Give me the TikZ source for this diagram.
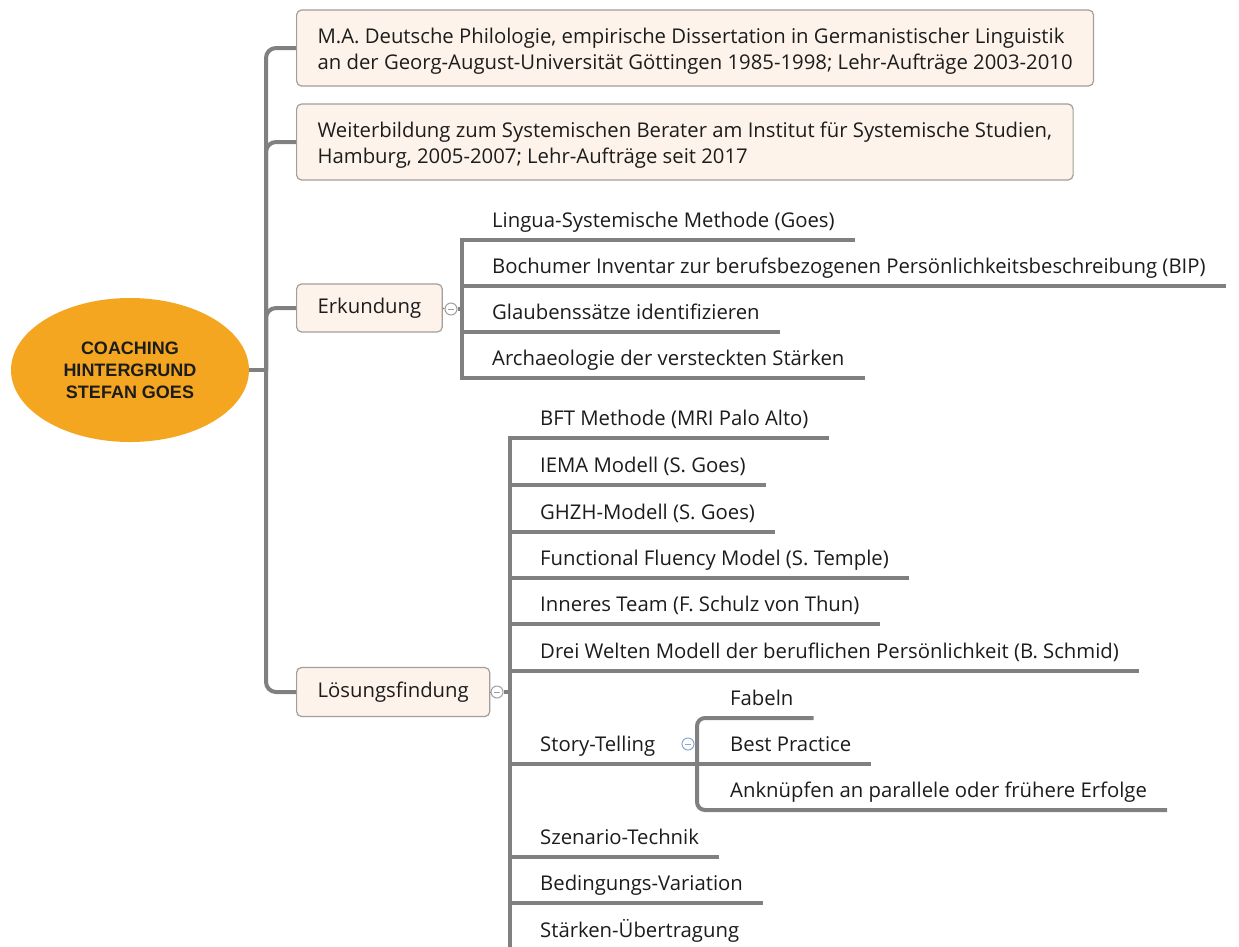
\documentclass[tikz,border=0pt]{standalone}
\usepackage{fontspec}
\setmainfont{Open Sans}
\newfontfamily\rootfont{Liberation Sans}
\usetikzlibrary{shapes.geometric}
\definecolor{rootorange}{HTML}{F4A620}
\definecolor{boxfill}{HTML}{FDF3EA}
\definecolor{boxline}{HTML}{A39E99}
\definecolor{branchgray}{HTML}{808080}
\definecolor{inkblack}{HTML}{1C1C1C}
\definecolor{foldblue}{HTML}{8DA5D8}
\tikzset{
  rootnode/.style={ellipse, fill=rootorange, minimum width=238pt, minimum height=144pt,
    align=center, text=inkblack, font=\rootfont\bfseries\fontsize{18}{22}\selectfont},
  topic/.style={draw=boxline, fill=boxfill, line width=1.2pt, rounded corners=5pt, anchor=west,
    inner xsep=21pt, minimum height=48pt, align=left, text=inkblack,
    font=\fontsize{20.3}{26}\selectfont},
  leaf/.style={anchor=south west, inner xsep=0pt, inner ysep=7pt, text height=15pt,
    text depth=5pt, text=inkblack, font=\fontsize{20.3}{24}\selectfont},
  branch/.style={draw=branchgray, line width=4pt},
  fold/.style={circle, draw=#1, fill=white, line width=1pt, minimum size=12pt, inner sep=0pt,
    path picture={\draw[#1, line width=1pt] ([xshift=-3pt]path picture bounding box.center)
      -- ([xshift=3pt]path picture bounding box.center);}},
  fold/.default=boxline
}
\newcommand{\topstrut}{\rule{0pt}{21pt}}
\begin{document}
\begin{tikzpicture}[x=1pt, y=-1pt]
    \path[use as bounding box, fill=white] (0,0) rectangle (1239,946);
    % root and main topics
    \node[rootnode] (root) at (130,370) {COACHING\\HINTERGRUND\\STEFAN GOES};
    \node[topic, minimum height=76pt] (studium) at (296,48)
      {\topstrut M.A. Deutsche Philologie, empirische Dissertation in Germanistischer Linguistik\\
       an der Georg-August-Universität Göttingen 1985-1998; Lehr-Aufträge 2003-2010};
    \node[topic, minimum height=76pt] (weiterbildung) at (296,142)
      {\topstrut Weiterbildung zum Systemischen Berater am Institut für Systemische Studien,\\
       Hamburg, 2005-2007; Lehr-Aufträge seit 2017};
    \node[topic] (erkundung) at (296,308) {Erkundung};
    \node[topic, minimum height=49pt] (loesung) at (296,692) {Lösungsfindung};
    \coordinate (trunk) at (266,370);
    \draw[branch] (root.east) -- (trunk);
    \draw[branch, rounded corners=10pt] (studium.west) -| (trunk);
    \draw[branch, rounded corners=10pt] (weiterbildung.west) -| (trunk);
    \draw[branch, rounded corners=10pt] (erkundung.west) -| (trunk);
    \draw[branch, rounded corners=10pt] (loesung.west) -| (trunk);

    % Erkundung
    \node[fold] (erkfold) at (451,309) {};
    \coordinate (erkbar) at (462,309);
    \draw[branchgray, line width=1pt] (erkundung.east) -- (erkfold.west);
    \draw[branch] (erkfold.east) -- (erkbar);
    \node[leaf] (lingua) at (492,240) {Lingua-Systemische Methode (Goes)};
    \node[leaf] (bochum) at (492,286) {Bochumer Inventar zur berufsbezogenen Persönlichkeitsbeschreibung (BIP)};
    \node[leaf] (glauben) at (492,332) {Glaubenssätze identifizieren};
    \node[leaf] (archae) at (492,378) {Archaeologie der versteckten Stärken};
    \draw[branch, line cap=rect] (erkbar |- lingua.south) -- (erkbar |- archae.south);
    \foreach \n in {lingua,bochum,glauben,archae}
      \draw[branch] (erkbar |- \n.south) -- ([xshift=20pt]\n.south east);

    % Loesungsfindung
    \node[fold] (loefold) at (497,692) {};
    \coordinate (loebar) at (510,692);
    \draw[branchgray, line width=1pt] (loesung.east) -- (loefold.west);
    \draw[branch] (loefold.east) -- (loebar);
    \node[leaf] (bft) at (540,438) {BFT Methode (MRI Palo Alto)};
    \node[leaf] (iema) at (540,485) {IEMA Modell (S. Goes)};
    \node[leaf] (ghzh) at (540,532) {GHZH-Modell (S. Goes)};
    \node[leaf] (fluency) at (540,578) {Functional Fluency Model (S. Temple)};
    \node[leaf] (team) at (540,624) {Inneres Team (F. Schulz von Thun)};
    \node[leaf] (welten) at (540,671) {Drei Welten Modell der beruflichen Persönlichkeit (B. Schmid)};
    \node[leaf] (story) at (540,764) {Story-Telling};
    \node[leaf] (szenario) at (540,857) {Szenario-Technik};
    \node[leaf] (bedingung) at (540,903) {Bedingungs-Variation};
    \node[leaf] (staerken) at (540,950) {Stärken-Übertragung};
    \draw[branch, line cap=rect] (loebar |- bft.south) -- (loebar |- staerken.south);
    \foreach \n in {bft,iema,ghzh,fluency,team,welten,szenario,bedingung,staerken}
      \draw[branch] (loebar |- \n.south) -- ([xshift=20pt]\n.south east);

    % Story-Telling
    \node[fold=foldblue] (storyfold) at (688,744) {};
    \coordinate (storybar) at (697,764);
    \node[leaf] (fabeln) at (730,718) {Fabeln};
    \node[leaf] (best) at (730,764) {Best Practice};
    \node[leaf] (anknuepfen) at (730,810) {Anknüpfen an parallele oder frühere Erfolge};
    \draw[branch] (loebar |- story.south) -- (storybar);
    \draw[branch] (storybar) -- ([xshift=20pt]best.south east);
    \draw[branch, rounded corners=8pt] ([xshift=20pt]fabeln.south east) -- (storybar |- fabeln.south)
      -- (storybar |- anknuepfen.south) -- ([xshift=20pt]anknuepfen.south east);
\end{tikzpicture}
\end{document}
